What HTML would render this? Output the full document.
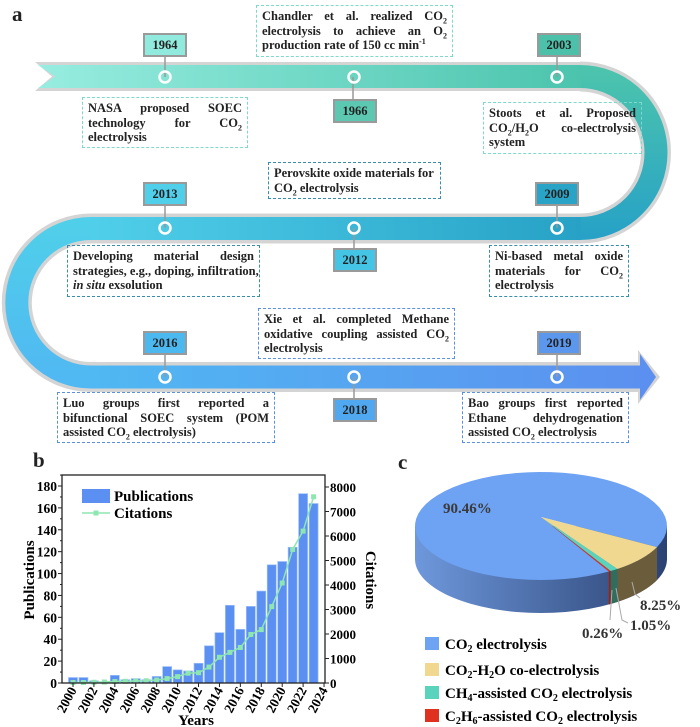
<!DOCTYPE html>
<html><head><meta charset="utf-8"><style>
body{margin:0;background:#fff;}
#wrap{position:relative;width:700px;height:727px;overflow:hidden;font-family:"Liberation Serif",serif;font-weight:bold;color:#222;}
.tb{position:absolute;border:1.5px dashed;box-sizing:border-box;padding:3px 5px;font-size:12.5px;line-height:14.5px;}
.tb div{text-align:justify;text-align-last:justify;white-space:nowrap;}
.tb div.l{text-align-last:left;}
.tb sub,.tb sup{font-size:8px;line-height:0;}
.t1{border-color:#7fd8cb}.t2{border-color:#3a8cab}.t3{border-color:#5b8fe0}
.yb{position:absolute;width:44px;height:24px;box-sizing:border-box;border:2px solid #9a9a9a;font-size:12.5px;text-align:center;line-height:20px;}
.lbl{position:absolute;font-size:21px;font-weight:bold;}
svg text{font-family:"Liberation Serif",serif;font-weight:bold;}
</style></head><body>
<div id="wrap">
<svg id="tl" width="700" height="460" style="position:absolute;left:0;top:0">
<defs>
<linearGradient id="g1" gradientUnits="userSpaceOnUse" x1="38" y1="0" x2="580" y2="0"><stop offset="0" stop-color="#97ede0"/><stop offset="1" stop-color="#4cc4ad"/></linearGradient>
<linearGradient id="g2" gradientUnits="userSpaceOnUse" x1="0" y1="70" x2="0" y2="235"><stop offset="0" stop-color="#4cc4ad"/><stop offset="1" stop-color="#27a2c6"/></linearGradient>
<linearGradient id="g3" gradientUnits="userSpaceOnUse" x1="580" y1="0" x2="91" y2="0"><stop offset="0" stop-color="#27a2c6"/><stop offset="1" stop-color="#50cfea"/></linearGradient>
<linearGradient id="g4" gradientUnits="userSpaceOnUse" x1="0" y1="225" x2="0" y2="380"><stop offset="0" stop-color="#50cfea"/><stop offset="1" stop-color="#50b8f2"/></linearGradient>
<linearGradient id="g5" gradientUnits="userSpaceOnUse" x1="91" y1="0" x2="656" y2="0"><stop offset="0" stop-color="#50b8f2"/><stop offset="1" stop-color="#5c8ff0"/></linearGradient>
</defs>
<g>
<path d="M580,76.5 A76,76 0 0 1 580,228.5" fill="none" stroke="#d4d4d4" stroke-width="30"/>
<path d="M91,228.5 A74.25,74.25 0 0 0 91,377" fill="none" stroke="#d4d4d4" stroke-width="30"/>
<polygon points="35,62 582,62 582,91 35,91 52,76.5" fill="#d4d4d4"/>
<rect x="89" y="213.5" width="493" height="30" fill="#d4d4d4"/>
<polygon points="89,362 638,362 638,350 660,377 638,404 638,392 89,392" fill="#d4d4d4"/>
<path d="M580,76.5 A76,76 0 0 1 580,228.5" fill="none" stroke="url(#g2)" stroke-width="23"/>
<path d="M91,228.5 A74.25,74.25 0 0 0 91,377" fill="none" stroke="url(#g4)" stroke-width="23"/>
<polygon points="38,65 581,65 581,88 38,88 55,76.5" fill="url(#g1)"/>
<rect x="90" y="217" width="491" height="23" fill="url(#g3)"/>
<polygon points="90,365.5 640,365.5 640,354 656,377 640,400 640,388.5 90,388.5" fill="url(#g5)"/>
</g>
<g stroke="#999" stroke-width="1.5">
<line x1="165" y1="57" x2="165" y2="77"/><line x1="353" y1="77" x2="353" y2="99"/><line x1="557" y1="57" x2="557" y2="77"/>
<line x1="165" y1="206" x2="165" y2="228"/><line x1="354" y1="228" x2="354" y2="248"/><line x1="557" y1="206" x2="557" y2="228"/>
<line x1="165" y1="355" x2="165" y2="377"/><line x1="354" y1="377" x2="354" y2="398"/><line x1="557" y1="355" x2="557" y2="377"/>
</g>
<g fill="none" stroke="#fff" stroke-width="2.5">
<circle cx="165" cy="77" r="5.5"/><circle cx="354" cy="77" r="5.5"/><circle cx="557" cy="77" r="5.5"/>
<circle cx="165" cy="228" r="5.5"/><circle cx="354" cy="228" r="5.5"/><circle cx="557" cy="228" r="5.5"/>
<circle cx="165" cy="377" r="5.5"/><circle cx="354" cy="377" r="5.5"/><circle cx="557" cy="377" r="5.5"/>
</g>
</svg>

<div class="lbl" style="left:12px;top:2px">a</div>
<div class="lbl" style="left:33px;top:448px">b</div>
<div class="lbl" style="left:398px;top:450px">c</div>

<div class="yb" style="left:143px;top:33px;background:#90eadd">1964</div>
<div class="yb" style="left:333px;top:99px;background:#5cc8b1">1966</div>
<div class="yb" style="left:537px;top:33px;background:#4cc0a9">2003</div>
<div class="yb" style="left:143px;top:182px;background:#50cfeb">2013</div>
<div class="yb" style="left:535px;top:182px;background:#2aa4c6">2009</div>
<div class="yb" style="left:333px;top:248px;background:#44c5e6">2012</div>
<div class="yb" style="left:143px;top:331px;background:#4bb8f0">2016</div>
<div class="yb" style="left:333px;top:398px;background:#50a9f0">2018</div>
<div class="yb" style="left:537px;top:331px;background:#5c97ee">2019</div>

<div class="tb t1" style="left:256px;top:5px;width:197px;height:52px">
<div>Chandler et al. realized CO<sub>2</sub></div><div>electrolysis to achieve an O<sub>2</sub></div><div class="l">production rate of 150 cc min<sup>-1</sup></div></div>
<div class="tb t1" style="left:82px;top:97px;width:166px;height:51px">
<div>NASA proposed SOEC</div><div>technology for CO<sub>2</sub></div><div class="l">electrolysis</div></div>
<div class="tb t1" style="left:483px;top:102px;width:159px;height:52px">
<div>Stoots et al. Proposed</div><div>CO<sub>2</sub>/H<sub>2</sub>O co-electrolysis</div><div class="l">system</div></div>
<div class="tb t2" style="left:268px;top:162px;width:173px;height:37px">
<div class="l">Perovskite oxide materials for</div><div class="l">CO<sub>2</sub> electrolysis</div></div>
<div class="tb t2" style="left:67px;top:245px;width:193px;height:52px">
<div>Developing material design</div><div>strategies, e.g., doping, infiltration,</div><div class="l"><i>in situ</i> exsolution</div></div>
<div class="tb t2" style="left:489px;top:245px;width:140px;height:52px">
<div>Ni-based metal oxide</div><div>materials for CO<sub>2</sub></div><div class="l">electrolysis</div></div>
<div class="tb t3" style="left:258px;top:308px;width:197px;height:51px">
<div>Xie et al. completed Methane</div><div>oxidative coupling assisted CO<sub>2</sub></div><div class="l">electrolysis</div></div>
<div class="tb t3" style="left:57px;top:392px;width:218px;height:51px">
<div>Luo groups first reported a</div><div>bifunctional SOEC system (POM</div><div class="l">assisted CO<sub>2</sub> electrolysis)</div></div>
<div class="tb t3" style="left:462px;top:392px;width:167px;height:51px">
<div>Bao groups first reported</div><div>Ethane dehydrogenation</div><div class="l">assisted CO<sub>2</sub> electrolysis</div></div>

<svg id="bar" width="390" height="267" style="position:absolute;left:0;top:460px"></svg>
<svg id="pie" width="310" height="267" style="position:absolute;left:390px;top:460px"></svg>
</div>
<script>
const years=[2000,2001,2002,2003,2004,2005,2006,2007,2008,2009,2010,2011,2012,2013,2014,2015,2016,2017,2018,2019,2020,2021,2022,2023];
const publications=[5,5,2,1,7,3,4,3,6,15,12,11,18,34,46,71,49,70,84,108,111,124,173,164];
const citations=[20,20,30,40,60,70,80,90,120,180,260,400,420,650,1050,1250,1450,1980,2180,3120,4080,5450,6200,7600];
const pubTicks=[0,20,40,60,80,100,120,140,160,180];
const citTicks=[0,1000,2000,3000,4000,5000,6000,7000,8000];
const yearTicks=[2000,2002,2004,2006,2008,2010,2012,2014,2016,2018,2020,2022,2024];
const pieLabels=["CO2 electrolysis","CO2-H2O co-electrolysis","CH4-assisted CO2 electrolysis","C2H6-assisted CO2 electrolysis"];
const pieValues=[90.46,8.25,1.05,0.26];

const NS="http://www.w3.org/2000/svg";
function mk(p,t,a){const e=document.createElementNS(NS,t);for(const k in a)e.setAttribute(k,a[k]);p.appendChild(e);return e;}
const bs=document.getElementById('bar');
const L=62,R=325,T=15,B=223;
const xS=y=>73+(y-2000)*10.46;
const yP=v=>B-v*(197/180);
const yC=v=>B-v*(196/8000);
for(let i=0;i<years.length;i++){
  const r=mk(bs,'rect',{x:xS(years[i])-4.5,y:yP(publications[i]),width:9,height:B-yP(publications[i]),fill:'#5b90f2',stroke:'#9cc0f8','stroke-width':0.7});
  
  
}
let d='';
for(let i=0;i<years.length;i++){d+=(i?'L':'M')+xS(years[i])+','+yC(citations[i]);}
const ln=mk(bs,'path',{d:d,fill:'none',stroke:'#8ee6b0','stroke-width':1.5});


for(let i=0;i<years.length;i++){
  const m=mk(bs,'rect',{x:xS(years[i])-2.5,y:yC(citations[i])-2.5,width:5,height:5,fill:'#8ee6b0'});
  
  
}
const fr=mk(bs,'rect',{x:L,y:T,width:R-L,height:B-T,fill:'none',stroke:'#222','stroke-width':1.3});


pubTicks.forEach(v=>{
  mk(bs,'line',{x1:L,x2:L-4,y1:yP(v),y2:yP(v),stroke:'#222'});
  mk(bs,'line',{x1:L,x2:L-2,y1:yP(v+10),y2:yP(v+10),stroke:'#222'});
  const t=mk(bs,'text',{x:L-5,y:yP(v)+5,'text-anchor':'end','font-size':13.5});t.textContent=v;
  
  
});
citTicks.forEach(v=>{
  mk(bs,'line',{x1:R,x2:R+4,y1:yC(v),y2:yC(v),stroke:'#222'});
  const t=mk(bs,'text',{x:R+5,y:yC(v)+5,'font-size':13});t.textContent=v;
  
  
});
yearTicks.forEach(v=>{
  mk(bs,'line',{x1:xS(v),x2:xS(v),y1:B,y2:B+4,stroke:'#222'});
  const t=mk(bs,'text',{x:xS(v)+4,y:B+7,'text-anchor':'end','font-size':13.5,transform:'rotate(-62 '+(xS(v)+4)+' '+(B+7)+')'});t.textContent=v;
  
  
});
let tx=mk(bs,'text',{x:196,y:265,'text-anchor':'middle','font-size':15});tx.textContent='Years';


tx=mk(bs,'text',{x:34,y:120,'text-anchor':'middle','font-size':15,transform:'rotate(-90 34 120)'});tx.textContent='Publications';


tx=mk(bs,'text',{x:366,y:120,'text-anchor':'middle','font-size':15,transform:'rotate(90 366 120)'});tx.textContent='Citations';


let lg=mk(bs,'rect',{x:82,y:29,width:28,height:14,fill:'#5b90f2'});


tx=mk(bs,'text',{x:114,y:41,'font-size':15});tx.textContent='Publications';


mk(bs,'line',{x1:82,x2:110,y1:53,y2:53,stroke:'#8ee6b0','stroke-width':1.5});
mk(bs,'rect',{x:93.5,y:50.5,width:5,height:5,fill:'#8ee6b0'});
tx=mk(bs,'text',{x:114,y:58,'font-size':15});tx.textContent='Citations';



const ps=document.getElementById('pie');
const pcx=151,pcy=66,prx=126,pry=54,dep=33,startAng=23;
const topCols=['#6ea2f2','#f0d890','#5ad3bd','#e03020'];
const sideCols=['#3a5d9c','#6b5d3c','#2f6e5f','#a02010'];
const P=(a,dy)=>[pcx+prx*Math.cos(a*Math.PI/180),pcy+pry*Math.sin(a*Math.PI/180)+(dy||0)];
const defs=mk(ps,'defs',{});
const lgd=mk(defs,'linearGradient',{id:'sg',x1:0,y1:0,x2:1,y2:0});
mk(lgd,'stop',{offset:0,'stop-color':'#6e98dc'});mk(lgd,'stop',{offset:1,'stop-color':'#2b4272'});
const sb=mk(ps,'path',{d:`M${pcx-prx},${pcy} L${pcx-prx},${pcy+dep} A${prx},${pry} 0 0 0 ${pcx+prx},${pcy+dep} L${pcx+prx},${pcy} Z`,fill:'url(#sg)'});


const total=pieValues.reduce((a,b)=>a+b,0);
let ang=startAng;const spans=[];
for(let i=1;i<pieValues.length;i++){const s=pieValues[i]/total*360;spans[i]=[ang,ang+s];ang+=s;}
spans[0]=[ang,startAng+360];
for(let i=1;i<pieValues.length;i++){
  const [a0,a1]=spans[i];let dd='';const n=12;
  for(let k=0;k<=n;k++){const p=P(a0+(a1-a0)*k/n);dd+=(k?'L':'M')+p[0]+','+p[1];}
  for(let k=n;k>=0;k--){const p=P(a0+(a1-a0)*k/n,dep);dd+='L'+p[0]+','+p[1];}
  const s=mk(ps,'path',{d:dd+'Z',fill:sideCols[i]});
  
  
}
for(let i=0;i<pieValues.length;i++){
  const [a0,a1]=spans[i];let dd=`M${pcx},${pcy-9}`;const n=60;
  for(let k=0;k<=n;k++){const p=P(a0+(a1-a0)*k/n);dd+='L'+p[0]+','+p[1];}
  const s=mk(ps,'path',{d:dd+'Z',fill:topCols[i]});
  
  
}
const lblPos=[[53,53],[250,150],[240,170],[192,178]];
pieValues.forEach((v,i)=>{
  const t=mk(ps,'text',{x:lblPos[i][0],y:lblPos[i][1],'font-size':15,fill:i==0?'#3a3a3a':'#333'});t.textContent=v.toFixed(2)+'%';
  
  
});
mk(ps,'polyline',{points:'242,122 245,134 250,138',fill:'none',stroke:'#aaa'});
mk(ps,'polyline',{points:'226,128 232,160 238,163',fill:'none',stroke:'#aaa'});
mk(ps,'polyline',{points:'222,130 220,160',fill:'none',stroke:'#aaa'});
const legY=[185,211,234,257];
const legTxt=['CO<tspan font-size="10" dy="3">2</tspan><tspan dy="-3"> electrolysis</tspan>',
'CO<tspan font-size="10" dy="3">2</tspan><tspan dy="-3">-H</tspan><tspan font-size="10" dy="3">2</tspan><tspan dy="-3">O co-electrolysis</tspan>',
'CH<tspan font-size="10" dy="3">4</tspan><tspan dy="-3">-assisted CO</tspan><tspan font-size="10" dy="3">2</tspan><tspan dy="-3"> electrolysis</tspan>',
'C<tspan font-size="10" dy="3">2</tspan><tspan dy="-3">H</tspan><tspan font-size="10" dy="3">6</tspan><tspan dy="-3">-assisted CO</tspan><tspan font-size="10" dy="3">2</tspan><tspan dy="-3"> electrolysis</tspan>'];
pieLabels.forEach((n,i)=>{
  const r=mk(ps,'rect',{x:35,y:legY[i]-8,width:14,height:13,fill:topCols[i]});
  
  
  const t=mk(ps,'text',{x:55,y:legY[i]+4,'font-size':15});t.innerHTML=legTxt[i];
  
  
});
</script>
</body></html>
